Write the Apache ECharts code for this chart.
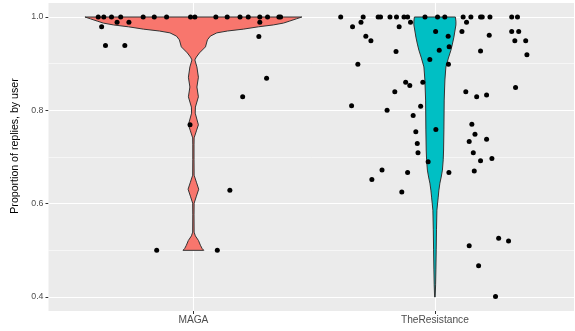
<!DOCTYPE html>
<html>
<head>
<meta charset="utf-8">
<script src="https://cdn.jsdelivr.net/npm/echarts@6/dist/echarts.min.js"></script>
<style>
  html, body { margin: 0; padding: 0; background: #fff; }
  #main { width: 575px; height: 331px; }
</style>
</head>
<body>
<div id="main"></div>
<script>
const groups = ['MAGA', 'TheResistance'];
const yTicks = [0.4, 0.6, 0.8, 1.0];
const yMinor = [0.5, 0.7, 0.9];

// violin outlines: value and half width (in category units)
const magaViolinY = [1.000, 0.996, 0.991, 0.987, 0.983, 0.979, 0.974, 0.970, 0.966, 0.959, 0.951, 0.936, 0.923, 0.914, 0.908,
  0.893, 0.871, 0.850, 0.829, 0.807, 0.794, 0.769, 0.756, 0.741, 0.726, 0.694, 0.661, 0.646, 0.631, 0.616, 0.601,
  0.576, 0.539, 0.531, 0.521, 0.511, 0.504, 0.500];
const magaViolinW = [0.449, 0.426, 0.397, 0.373, 0.331, 0.269, 0.207, 0.141, 0.097, 0.070, 0.058, 0.050, 0.025, 0.012, 0.006,
  0.0145, 0.0207, 0.0145, 0.0207, 0.0083, 0.0075, 0.0207, 0.0124, 0.003, 0.0025, 0.0025, 0.003, 0.0124, 0.022, 0.0124, 0.003,
  0.0025, 0.003, 0.008, 0.021, 0.029, 0.036, 0.043];
const resistViolinY = [1.000, 0.991, 0.983, 0.970, 0.957, 0.942, 0.929, 0.912, 0.893, 0.865, 0.822, 0.758, 0.715, 0.694,
  0.672, 0.657, 0.644, 0.629, 0.614, 0.586, 0.544, 0.501, 0.458, 0.426, 0.400];
const resistViolinW = [0.0849, 0.0870, 0.0870, 0.0828, 0.0787, 0.0725, 0.0663, 0.0559, 0.0455, 0.0414, 0.0385, 0.0373, 0.0360, 0.0344,
  0.0311, 0.0261, 0.0207, 0.0166, 0.0137, 0.0083, 0.0066, 0.0054, 0.0041, 0.0029, 0.0012];

// jittered points: offset from the group centre and proportion
const magaJitter = [-0.394, -0.371, -0.339, -0.301, -0.208, -0.162, -0.111, -0.012, 0.006, 0.093, 0.140, 0.193, 0.227, 0.275, 0.307, 0.354, 0.361,
  -0.380, -0.316, -0.267, -0.364, -0.284, 0.275, 0.271, 0.303, 0.204, -0.014, 0.151, -0.152, 0.099];
const magaValues = [1, 1, 1, 1, 1, 1, 1, 1, 1, 1, 1, 1, 1, 1, 1, 1, 1,
  0.979, 0.989, 0.989, 0.939, 0.939, 0.989, 0.958, 0.869, 0.829, 0.769, 0.629, 0.500, 0.500];

const resistJitter = [-0.390, -0.297, -0.235, -0.225, -0.186, -0.159, -0.128, -0.113, -0.041, 0.011, 0.041, 0.117, 0.149, 0.189, 0.196, 0.228, 0.318, 0.342,
  -0.341, -0.306, -0.148, -0.101, 0.131, -0.286, -0.265, -0.161, 0.003, 0.055, 0.018, 0.059, -0.021, 0.056, 0.112, 0.225, 0.189,
  0.318, 0.347, 0.331, 0.376, 0.381, -0.319, -0.121, -0.104, -0.050, -0.166, 0.128, 0.173, 0.214, 0.334, -0.345, -0.198, -0.059,
  -0.090, 0.153, -0.079, 0.004, 0.166, 0.214, 0.142, -0.073, -0.070, 0.159, -0.028, 0.236, 0.189, -0.219, -0.113, 0.058, 0.163,
  -0.261, -0.137, 0.142, 0.264, 0.305, 0.181, 0.251];
const resistValues = [1, 1, 1, 1, 1, 1, 1, 1, 1, 1, 1, 1, 1, 1, 1, 1, 1, 1,
  0.979, 0.989, 0.979, 0.989, 0.989, 0.959, 0.949, 0.926, 0.969, 0.959, 0.929, 0.936, 0.909, 0.899, 0.969, 0.961, 0.927,
  0.969, 0.969, 0.949, 0.949, 0.919, 0.899, 0.860, 0.853, 0.860, 0.840, 0.840, 0.829, 0.833, 0.849, 0.810, 0.800, 0.809,
  0.789, 0.770, 0.754, 0.759, 0.749, 0.738, 0.733, 0.729, 0.709, 0.709, 0.690, 0.697, 0.692, 0.672, 0.667, 0.667, 0.670,
  0.652, 0.625, 0.510, 0.526, 0.520, 0.467, 0.401];

const violins = [
  { y: magaViolinY, w: magaViolinW, color: '#F8766D' },
  { y: resistViolinY, w: resistViolinW, color: '#00BFC4' }
];

const points = magaValues.map((v, i) => [1 + magaJitter[i], v])
  .concat(resistValues.map((v, i) => [2 + resistJitter[i], v]));

const font = 'Liberation Sans, Arial, sans-serif';
const chart = echarts.init(document.getElementById('main'));

function renderViolin(params, api) {
  const g = violins[params.dataIndex];
  const cx = params.dataIndex + 1;
  const right = g.y.map((v, i) => api.coord([cx + g.w[i], v]));
  const left = g.y.map((v, i) => api.coord([cx - g.w[i], v])).reverse();
  return {
    type: 'polygon',
    shape: { points: right.concat(left) },
    style: { fill: g.color, stroke: '#333333', lineWidth: 1 }
  };
}

chart.setOption({
  animation: false,
  grid: {
    left: 48.5, right: 1, top: 3, bottom: 20,
    show: true, backgroundColor: '#EBEBEB', borderWidth: 0
  },
  xAxis: {
    type: 'value', min: 0.4, max: 2.576,
    axisLine: { show: false },
    splitLine: { show: false },
    axisTick: { show: true, customValues: [1, 2], length: 3, lineStyle: { color: '#333333', width: 1 } },
    axisLabel: {
      customValues: [1, 2], margin: 4, color: '#4D4D4D', fontSize: 10.2, fontFamily: font,
      formatter: v => groups[Math.round(v) - 1]
    }
  },
  yAxis: {
    type: 'value', min: 0.37, max: 1.03,
    name: 'Proportion of replies, by user', nameLocation: 'middle', nameGap: 28,
    nameTextStyle: { color: '#000', fontSize: 10.6, fontFamily: font, padding: [0, 0, 0, 22] },
    axisLine: { show: false },
    splitLine: { show: false },
    axisTick: { show: true, customValues: yTicks, length: 3, lineStyle: { color: '#333333', width: 1 } },
    axisLabel: {
      customValues: yTicks, margin: 5, color: '#4D4D4D', fontSize: 8.8, fontFamily: font,
      formatter: v => v.toFixed(1)
    }
  },
  series: [
    {
      type: 'line', data: [], z: 1,
      markLine: {
        silent: true, symbol: 'none', label: { show: false }, animation: false, z: 1,
        lineStyle: { color: '#FFFFFF', type: 'solid' },
        data: yTicks.map(v => ({ yAxis: v, lineStyle: { width: 1.1 } }))
          .concat(yMinor.map(v => ({ yAxis: v, lineStyle: { width: 0.55 } })))
          .concat([1, 2].map(v => ({ xAxis: v, lineStyle: { width: 1.1 } })))
      }
    },
    {
      type: 'custom', z: 2,
      renderItem: renderViolin,
      data: [[1, 1], [2, 1]],
      silent: true
    },
    {
      type: 'scatter', z: 3,
      symbolSize: 5,
      itemStyle: { color: '#000000', opacity: 1 },
      data: points,
      silent: true
    }
  ]
});
</script>
</body>
</html>
